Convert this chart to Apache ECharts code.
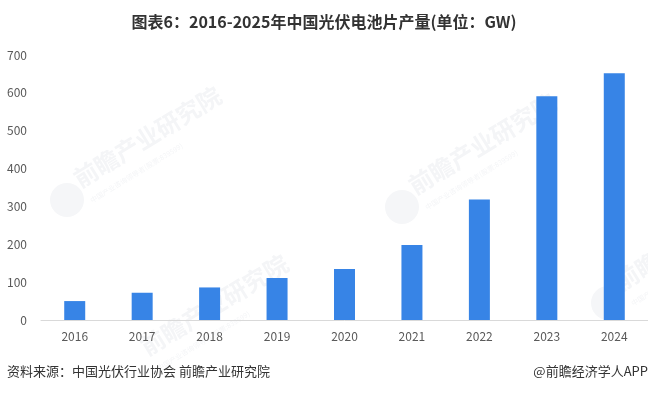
<!DOCTYPE html>
<html><head><meta charset="utf-8">
<script src="https://cdn.jsdelivr.net/npm/echarts@6/dist/echarts.min.js"></script>
<style>html,body{margin:0;padding:0;background:#fff}#c{width:648px;height:394px}</style>
</head><body><div id="c"></div>
<script>
const categories = ['2016','2017','2018','2019','2020','2021','2022','2023','2024'];
const production = [50, 72, 86, 111, 135, 198, 318, 591, 652];
const yTicks = [0,100,200,300,400,500,600,700];
const titleText = '图表6：2016-2025年中国光伏电池片产量(单位：GW)';
const sourceText = '资料来源：中国光伏行业协会 前瞻产业研究院';
const brandText = '@前瞻经济学人APP';
const watermarkText = '前瞻产业研究院';
const watermarkSub = '中国产业咨询领导者(股票:839599)';

const chart = echarts.init(document.getElementById('c'), null, {renderer:'canvas'});
const font = '"Microsoft YaHei","Noto Sans CJK SC",sans-serif';
const rot = 31.5 * Math.PI / 180;
function watermark(cx, cy, withLogo){
  const kids = [
    {type:'text', x:15, y:-9, rotation:rot, z:-10,
      style:{text:watermarkText, fontSize:24, fontWeight:'bold', fill:'#f4f5f7', fontFamily:font, textVerticalAlign:'bottom', align:'left'}},
    {type:'text', x:22, y:-2, rotation:rot, z:-10,
      style:{text:watermarkSub, fontSize:7, fill:'#f4f5f7', fontFamily:font, textVerticalAlign:'top', align:'left'}}
  ];
  if (withLogo) kids.unshift({type:'circle', shape:{cx:0, cy:0, r:17}, style:{fill:'#f5f6f8'}, z:-10});
  return {type:'group', x:cx, y:cy, z:-10, silent:true, children:kids};
}
chart.setOption({
  animation:false,
  title:{text:titleText,left:'center',top:9,textStyle:{fontSize:16,fontWeight:'bold',color:'#333',fontFamily:font}},
  grid:{left:41,width:614,top:55,bottom:74},
  xAxis:{type:'category',data:categories,
    axisLine:{lineStyle:{color:'#d9d9d9'}},axisTick:{show:false},
    axisLabel:{color:'#595959',fontSize:12,margin:10,fontFamily:font}},
  yAxis:{type:'value',min:yTicks[0],max:yTicks[yTicks.length-1],interval:100,
    splitLine:{show:false},axisLine:{show:false},axisTick:{show:false},
    axisLabel:{color:'#595959',fontSize:12,margin:14,fontFamily:font}},
  series:[{type:'bar',data:production,barWidth:21,itemStyle:{color:'#3784e6'},z:5}],
  graphic:[
    watermark(67,200,true), watermark(402,207,true), watermark(608,303,true), watermark(134,368,false),
    {type:'text',left:7,top:365,style:{text:sourceText,fontSize:13,fill:'#333',fontFamily:font}},
    {type:'text',right:0,top:365,style:{text:brandText,fontSize:13,fill:'#333',fontFamily:font}}
  ]
});
</script></body></html>
